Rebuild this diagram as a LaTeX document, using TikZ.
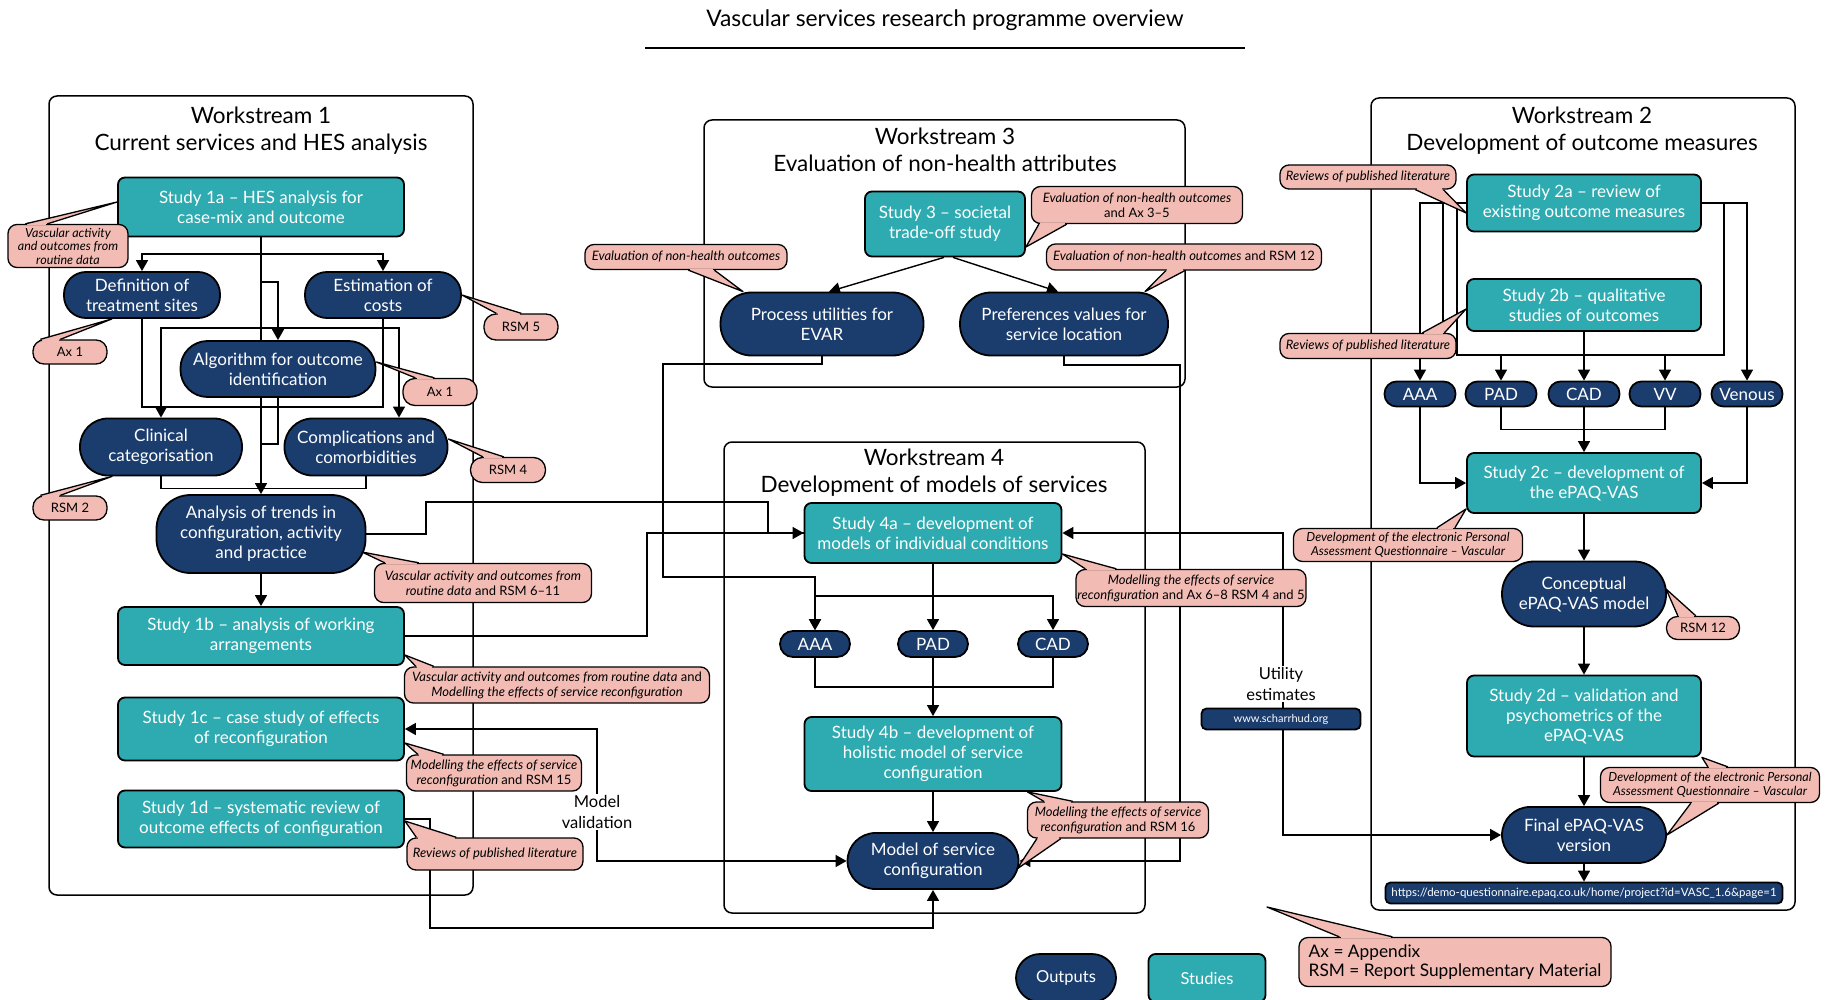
\documentclass[tikz,border=0pt]{standalone}
\usepackage{fontspec}
\setmainfont{Lato}
\usetikzlibrary{calc,arrows.meta,backgrounds}
\definecolor{studyteal}{HTML}{2EABB0}
\definecolor{outnavy}{HTML}{1B3D6E}
\definecolor{notepink}{HTML}{F2BCB5}
\tikzset{study/.style={rectangle,rounded corners=7,draw,line width=1.8pt,fill=studyteal,text=white,align=center,font=\fontsize{17}{20}\selectfont,inner sep=2pt},
  outp/.style={rectangle,rounded corners=#1,draw,line width=1.8pt,fill=outnavy,text=white,align=center,font=\fontsize{17}{20}\selectfont,inner sep=2pt},
  outp/.default=22,
  bubble/.style={rectangle,rounded corners=9,draw,line width=1.3pt,fill=notepink,align=center,font=\fontsize{13}{15}\selectfont,inner sep=1pt},
  ws/.style={draw,line width=1.5pt,rounded corners=8},
  wstitle/.style={align=center,font=\fontsize{22.5}{27}\selectfont},
  link/.style={line width=1.4pt}}
\newcommand{\pointer}[3]{%
  \fill[notepink] (#1) -- (#2) -- (#3) -- cycle;
  \fill[notepink] ($(#1)!3pt!(#3)+(-1.6,-1.6)$) rectangle ($(#3)!3pt!(#1)+(1.6,1.6)$);
  \draw[line width=1.3pt,line join=round] (#1) -- (#2) -- (#3);}
\begin{document}
\begin{tikzpicture}[x=1pt,y=-1pt,>={Triangle[length=11pt,width=12pt]}]
\useasboundingbox (0,0) rectangle (1827,1000);

\node[font=\fontsize{22.8}{27}\selectfont] (title) at (945,20) {Vascular services research programme overview};
\draw[line width=1.5pt] (645,48) -- (1245,48);

% workstreams
\draw[ws] (49,96) rectangle (473,895);
\draw[ws] (704,120) rectangle (1185,387);
\draw[ws] (724,442) rectangle (1145,913);
\draw[ws] (1371,98) rectangle (1795,910);
\node[wstitle] (ws1t) at (261,131) {Workstream 1\\Current services and HES analysis};
\node[wstitle] (ws3t) at (945,150) {Workstream 3\\Evaluation of non-health attributes};
\node[wstitle] (ws4t) at (934,473) {Workstream 4\\Development of models of services};
\node[wstitle] (ws2t) at (1582,131) {Workstream 2\\Development of outcome measures};

% workstream 1
\node[study,minimum width=286,minimum height=59] (s1a) at (261,207) {Study 1a -- HES analysis for\\case-mix and outcome};
\node[outp,minimum width=156,minimum height=46] (defn) at (142,295) {Definition of\\treatment sites};
\node[outp,minimum width=156,minimum height=46] (cost) at (383,295) {Estimation of\\costs};
\node[outp=27,minimum width=195,minimum height=56] (algo) at (278,369) {Algorithm for outcome\\identification};
\node[outp=28,minimum width=162,minimum height=57] (clin) at (161,447) {Clinical\\categorisation};
\node[outp=28,minimum width=163,minimum height=57] (comp) at (366,447) {Complications and\\comorbidities};
\node[outp=34,minimum width=209,minimum height=78] (trend) at (261,534) {Analysis of trends in\\configuration, activity\\and practice};
\node[study,minimum width=286,minimum height=58] (s1b) at (261,636) {Study 1b -- analysis of working\\arrangements};
\node[study,minimum width=286,minimum height=63] (s1c) at (261,729) {Study 1c -- case study of effects\\of reconfiguration};
\node[study,minimum width=286,minimum height=57] (s1d) at (261,819) {Study 1d -- systematic review of\\outcome effects of configuration};

% workstream 3
\node[study,minimum width=160,minimum height=65] (s3) at (945,224) {Study 3 -- societal\\trade-off study};
\node[outp=31,minimum width=203,minimum height=63] (evar) at (822,324) {Process utilities for\\EVAR};
\node[outp=31,minimum width=208,minimum height=63] (pref) at (1064,324) {Preferences values for\\service location};

% workstream 4
\node[study,minimum width=257,minimum height=60] (s4a) at (933,533) {Study 4a -- development of\\models of individual conditions};
\node[outp=13,minimum width=70,minimum height=26] (aaa4) at (815,644) {AAA};
\node[outp=13,minimum width=70,minimum height=26] (pad4) at (933,644) {PAD};
\node[outp=13,minimum width=70,minimum height=26] (cad4) at (1053,644) {CAD};
\node[study,minimum width=257,minimum height=74] (s4b) at (933,754) {Study 4b -- development of\\holistic model of service\\configuration};
\node[outp=28,minimum width=171,minimum height=56] (msc) at (933,861) {Model of service\\configuration};

% workstream 2
\node[study,minimum width=234,minimum height=57] (s2a) at (1584,203) {Study 2a -- review of\\existing outcome measures};
\node[study,minimum width=234,minimum height=52] (s2b) at (1584,305) {Study 2b -- qualitative\\studies of outcomes};
\node[outp=12,minimum width=71,minimum height=25] (aaa2) at (1420,394) {AAA};
\node[outp=12,minimum width=71,minimum height=25] (pad2) at (1501,394) {PAD};
\node[outp=12,minimum width=71,minimum height=25] (cad2) at (1584,394) {CAD};
\node[outp=12,minimum width=71,minimum height=25] (vv2) at (1665,394) {VV};
\node[outp=12,minimum width=71,minimum height=25] (ven2) at (1747,394) {Venous};
\node[study,minimum width=234,minimum height=60] (s2c) at (1584,483) {Study 2c -- development of\\the ePAQ-VAS};
\node[outp=32,minimum width=164,minimum height=65] (concept) at (1584,594) {Conceptual\\ePAQ-VAS model};
\node[study,minimum width=234,minimum height=81] (s2d) at (1584,716) {Study 2d -- validation and\\psychometrics of the\\ePAQ-VAS};
\node[outp=28,minimum width=164,minimum height=56] (final) at (1584,835) {Final ePAQ-VAS\\version};
\node[outp=5,minimum width=397,minimum height=21,font=\fontsize{11.5}{13}\selectfont] (url) at (1584,893) {https://demo-questionnaire.epaq.co.uk/home/project?id=VASC\_1.6\&page=1};

% legend
\node[outp=24,minimum width=100,minimum height=48,font=\fontsize{16.5}{20}\selectfont] (leg1) at (1066,978) {Outputs};
\node[study,minimum width=117,minimum height=48,font=\fontsize{16.5}{20}\selectfont] (leg2) at (1207,978) {Studies};

\begin{pgfonlayer}{background}
% links workstream 1
\draw[link,->] (s1a.south) -- (trend.north);
\draw[link,->] (261,254) -| (defn.north);
\draw[link,->] (261,254) -| (cost.north);
\draw[link,->] (261,282) -| (algo.north);
\draw[link,->] (278,328) -| (clin.north);
\draw[link,->] (278,328) -| ([xshift=33]comp.north);
\draw[link] (defn.south) -- ++(0,88) -| (cost.south);
\draw[link] (algo.south) |- (261,444);
\draw[link] (clin.south) -- ++(0,12) -| (comp.south);
\draw[link,->] (trend) -- (s1b);
\draw[link] (trend.east) -- (426,534) |- (768,502) |- (s4a.west);
\draw[link,->] (s1b.east) -- (647,636) |- (s4a.west);
\draw[link,<->] (s1c.east) -| (597,861) -- (msc.west);
\draw[link,->] (s1d.east) -- (430,819) |- (933,928) -- (msc.south);

% links workstream 3 and 4
\draw[link,->] ([xshift=-1]s3.south) -- ([xshift=7]evar.north);
\draw[link,->] ([xshift=8]s3.south) -- ([xshift=-6]pref.north);
\draw[link,->] (evar.south) |- (663,364) |- (815,577) -- (aaa4.north);
\draw[link,->] (pref.south) |- (1180,365) |- (msc.east);
\draw[link,->] (s4a) -- (pad4);
\draw[link,->] (933,596) -| (aaa4.north);
\draw[link,->] (933,596) -| (cad4.north);
\draw[link] (aaa4.south) |- (cad4.south |- 0,687) -- (cad4.south);
\draw[link,->] (pad4) -- (s4b);
\draw[link,->] (s4b) -- (msc);
\draw[link,<->] (s4a.east) -| (1283,835) -- (final.west);

% links workstream 2
\draw[link,->] (s2a.west) -| (aaa2.north);
\draw[link] (1443,203) -- (1443,355);
\draw[link] (1457,203) |- (1724,355) |- (s2a.east);
\draw[link,->] (s2a.east) -| (ven2.north);
\draw[link,->] (1501,355) -- (pad2.north);
\draw[link,->] (1665,355) -- (vv2.north);
\draw[link,->] (s2b) -- (cad2);
\draw[link] (pad2.south) -- ++(0,22) -| (vv2.south);
\draw[link,->] (cad2) -- (s2c);
\draw[link,->] (aaa2.south) |- (s2c.west);
\draw[link,->] (ven2.south) |- (s2c.east);
\draw[link,->] (s2c) -- (concept);
\draw[link,->] (concept) -- (s2d);
\draw[link,->] (s2d) -- (final);
\draw[link,->] (final) -- (url);
\end{pgfonlayer}

% labels on links
\node[fill=white,inner sep=1pt,align=center,font=\fontsize{16.5}{21}\selectfont] (mval) at (597,812) {Model\\validation};
\node[fill=white,inner sep=1pt,align=center,font=\fontsize{16.5}{21}\selectfont] (util) at (1281,684) {Utility\\estimates};
\node[outp=5,minimum width=159,minimum height=21,font=\fontsize{11}{12}\selectfont] (scharr) at (1281,719) {www.scharrhud.org};

% sources
\node[bubble,minimum width=120,minimum height=43,font=\itshape\fontsize{12.5}{13.5}\selectfont] (src1) at (68,246) {Vascular activity\\and outcomes from\\routine data};
\pointer{[xshift=18]src1.north west}{[yshift=5]s1a.west}{[xshift=40]src1.north west}
\node[bubble,minimum width=74,minimum height=24,rounded corners=11] (src2) at (70,352) {Ax 1};
\pointer{[xshift=8]src2.north west}{[xshift=-30]defn.south}{[xshift=28]src2.north west}
\node[bubble,minimum width=74,minimum height=26,rounded corners=12] (src3) at (521,327) {RSM 5};
\pointer{[xshift=13]src3.north west}{cost.east}{[xshift=38]src3.north west}
\node[bubble,minimum width=74,minimum height=27,rounded corners=12] (src4) at (440,392) {Ax 1};
\pointer{[xshift=13]src4.north west}{[yshift=7]algo.east}{[xshift=32]src4.north west}
\node[bubble,minimum width=75,minimum height=25,rounded corners=12] (src5) at (508,470) {RSM 4};
\pointer{[xshift=13]src5.north west}{[yshift=8]comp.east}{[xshift=34]src5.north west}
\node[bubble,minimum width=74,minimum height=24,rounded corners=11] (src6) at (70,508) {RSM 2};
\pointer{[xshift=8]src6.north west}{[xshift=-49]clin.south}{[xshift=28]src6.north west}
\node[bubble,minimum width=217,minimum height=39] (src7) at (483,583) {\textit{Vascular activity and outcomes from}\\\textit{routine data} and RSM 6--11};
\pointer{[xshift=11]src7.north west}{362,552}{[xshift=45]src7.north west}
\node[bubble,minimum width=305,minimum height=36] (src8) at (557,685) {\textit{Vascular activity and outcomes from routine data} and\\\textit{Modelling the effects of service reconfiguration}};
\pointer{[xshift=12]src8.north west}{[yshift=-19]s1b.east}{[xshift=30]src8.north west}
\node[bubble,minimum width=175,minimum height=36] (src9) at (494,773) {\textit{Modelling the effects of service}\\\textit{reconfiguration} and RSM 15};
\pointer{[xshift=12]src9.north west}{[yshift=-14]s1c.east}{[xshift=38]src9.north west}
\node[bubble,minimum width=176,minimum height=32] (src10) at (495,854) {\textit{Reviews of published literature}};
\pointer{[xshift=10]src10.north west}{[yshift=-2]s1d.east}{[xshift=50]src10.north west}

\node[bubble,minimum width=211,minimum height=37] (src11) at (1137,205) {\textit{Evaluation of non-health outcomes}\\and Ax 3--5};
\pointer{[xshift=8]src11.south west}{[yshift=-23]s3.east}{[xshift=36]src11.south west}
\node[bubble,minimum width=202,minimum height=25] (src12) at (686,257) {\textit{Evaluation of non-health outcomes}};
\pointer{[xshift=104]src12.south west}{[xshift=-79]evar.north}{[xshift=130]src12.south west}
\node[bubble,minimum width=275,minimum height=26] (src13) at (1184,257) {\textit{Evaluation of non-health outcomes} and RSM 12};
\pointer{[xshift=120]src13.south west}{[xshift=81]pref.north}{[xshift=139]src13.south west}

\node[bubble,minimum width=230,minimum height=37] (src14) at (1191,588) {\textit{Modelling the effects of service}\\\textit{reconfiguration} and Ax 6--8 RSM 4 and 5};
\pointer{[xshift=10]src14.north west}{[yshift=-21]s4a.east}{[xshift=41]src14.north west}
\node[bubble,minimum width=181,minimum height=36] (src15) at (1118,820) {\textit{Modelling the effects of service}\\\textit{reconfiguration} and RSM 16};
\pointer{[xshift=10]src15.south west}{[shift={(84,8)}]msc.center}{[xshift=34]src15.south west}
\pointer{[xshift=17]src15.north west}{[xshift=-35]s4b.south east}{[xshift=46]src15.north west}

\node[bubble,minimum width=176,minimum height=24,font=\itshape\fontsize{13}{15}\selectfont] (src16) at (1368,177) {Reviews of published literature};
\pointer{[xshift=136]src16.south west}{[yshift=-10]s2a.west}{[xshift=164]src16.south west}
\node[bubble,minimum width=176,minimum height=25,font=\itshape\fontsize{13}{15}\selectfont] (src17) at (1368,346) {Reviews of published literature};
\pointer{[xshift=143]src17.north west}{[yshift=-4]s2b.west}{[xshift=165]src17.north west}
\node[bubble,minimum width=229,minimum height=33,font=\itshape\fontsize{12.5}{14.5}\selectfont] (src18) at (1408,545) {Development of the electronic Personal\\Assessment Questionnaire -- Vascular};
\pointer{[xshift=144]src18.north west}{[yshift=5]s2c.south west}{[xshift=162]src18.north west}
\node[bubble,minimum width=73,minimum height=23,rounded corners=11] (src19) at (1703,628) {RSM 12};
\pointer{[xshift=12]src19.north west}{[shift={(82,-5)}]concept.center}{[xshift=30]src19.north west}
\node[bubble,minimum width=219,minimum height=35,font=\itshape\fontsize{12.5}{14.5}\selectfont] (src20) at (1710,785) {Development of the electronic Personal\\Assessment Questionnaire -- Vascular};
\pointer{[xshift=91]src20.south west}{final.east}{[xshift=119]src20.south west}
\pointer{[xshift=108]src20.north west}{s2d.south east}{[xshift=128]src20.north west}

\coordinate (keytip) at (1267,907);
\node[bubble,minimum width=312,minimum height=49,align=left,font=\fontsize{17.3}{19.5}\selectfont] (key) at (1455,962) {Ax = Appendix\\RSM = Report Supplementary Material};
\pointer{[xshift=41]key.north west}{keytip}{[xshift=94]key.north west}
\end{tikzpicture}
\end{document}
